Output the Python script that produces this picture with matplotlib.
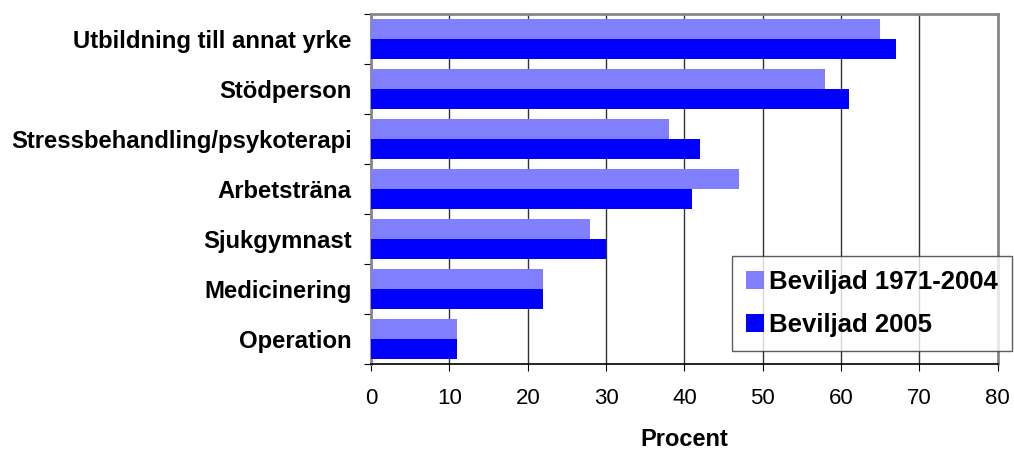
import matplotlib.pyplot as plt
import numpy as np

plt.rcParams['font.family'] = ['Liberation Sans', 'DejaVu Sans']

categories = ['Utbildning till annat yrke', 'Stödperson', 'Stressbehandling/psykoterapi',
              'Arbetsträna', 'Sjukgymnast', 'Medicinering', 'Operation']
beviljad_1971_2004 = [65, 58, 38, 47, 28, 22, 11]
beviljad_2005 = [67, 61, 42, 41, 30, 22, 11]

fig = plt.figure(figsize=(10.14, 4.53), dpi=100)
ax = fig.add_axes([0.366, 0.196, 0.618, 0.773])

y = np.arange(len(categories))[::-1]
h = 0.4
ax.barh(y + h / 2, beviljad_1971_2004, height=h, color='#8080ff', label='Beviljad 1971-2004', zorder=3)
ax.barh(y - h / 2, beviljad_2005, height=h, color='#0000ff', label='Beviljad 2005', zorder=3)

ax.set_xlim(0, 80)
ax.set_ylim(-0.5, len(categories) - 0.5)
ax.set_xticks(range(0, 81, 10))
ax.set_yticks(np.arange(-0.5, len(categories), 1.0))
ax.set_yticklabels([])
ax.set_yticks(y, minor=True)
ax.set_yticklabels(categories, minor=True, fontsize=17.2, fontweight='bold')
ax.tick_params(axis='y', which='minor', length=0, pad=14)
ax.tick_params(axis='y', which='major', length=5, direction='out', color='black')
ax.tick_params(axis='x', length=5, labelsize=16, pad=12, color='black')

ax.xaxis.grid(True, color='#333333', linewidth=1, zorder=0)
for s in ['top', 'right', 'left']:
    ax.spines[s].set_color('#888888')
    ax.spines[s].set_linewidth(2)
ax.spines['bottom'].set_color('black')
ax.spines['bottom'].set_linewidth(1.2)

ax.set_xlabel('Procent', fontsize=17, fontweight='bold', labelpad=14)

leg = ax.legend(loc='upper left', bbox_to_anchor=(0.722, 0.435), bbox_transform=fig.transFigure,
                prop={'size': 18.5, 'weight': 'bold'}, frameon=True, fancybox=False,
                handlelength=0.7, handleheight=0.7, handletextpad=0.2, labelspacing=0.75,
                borderpad=0.55, borderaxespad=0, edgecolor='#333333')
leg.get_frame().set_linewidth(1)

plt.savefig('out.png', dpi=100)
